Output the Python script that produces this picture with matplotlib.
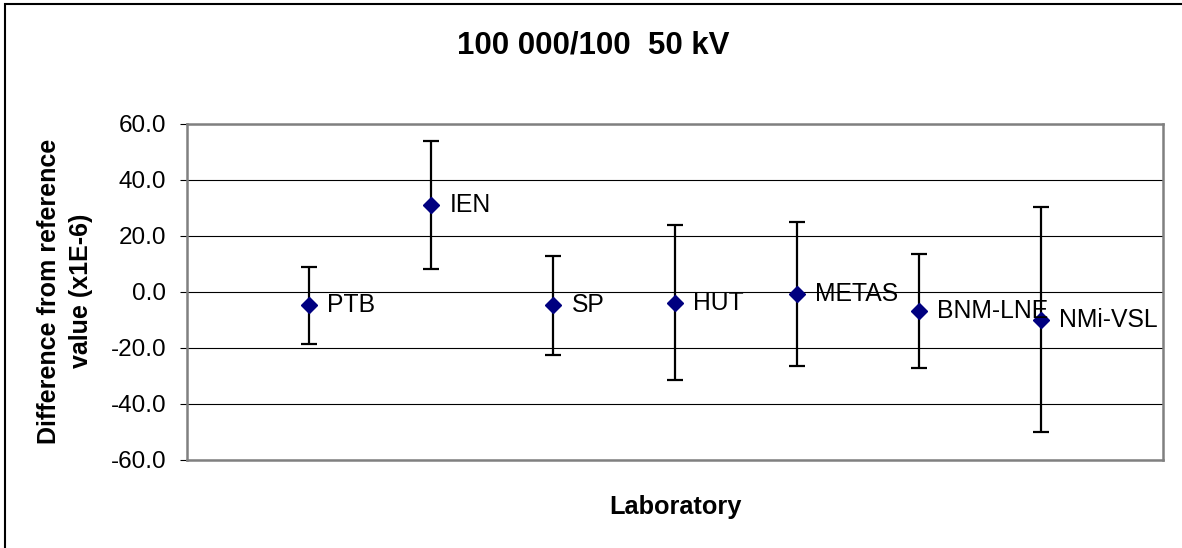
import numpy as np
import matplotlib.pyplot as plt

plt.rcParams['font.family'] = ['Liberation Sans', 'DejaVu Sans']

labs = ['PTB', 'IEN', 'SP', 'HUT', 'METAS', 'BNM-LNE', 'NMi-VSL']
diff = [-4.8, 31.1, -4.8, -3.8, -0.8, -6.8, -9.9]
unc = [13.8, 22.8, 17.8, 27.7, 25.7, 20.2, 40.2]
yt = np.arange(-60, 61, 20)

W, H = 1182, 548
fig = plt.figure(figsize=(W / 100, H / 100), dpi=100)
# plot area in pixels: left 187, right 1163, top 124, bottom 460
ax = fig.add_axes([187 / W, 1 - 460 / H, (1163 - 187) / W, (460 - 124) / H])

x = np.arange(1, len(labs) + 1)
ax.errorbar(x, diff, yerr=unc, fmt='D', color='#000080', ms=7.8,
            ecolor='black', elinewidth=1.6, capsize=5.8, capthick=1.6,
            zorder=3)
for xi, yi, s in zip(x, diff, labs):
    ax.annotate(s, (xi, yi), xytext=(13.3, 0), textcoords='offset points',
                va='center', ha='left', fontsize=17.8, zorder=4)

ax.set_xlim(0, 8)
ax.set_ylim(-60, 60)
ax.set_yticks(yt)
ax.set_yticklabels([f'{v:.1f}' for v in yt], fontsize=17.5)
ax.set_xticks([])
ax.grid(axis='y', color='black', lw=0.8)
ax.set_axisbelow(True)
for sp in ax.spines.values():
    sp.set_color('#808080')
    sp.set_linewidth(1.8)
ax.tick_params(axis='y', length=5, width=0.8, color='black', pad=10)

fig.text(65 / W, 1 - 291 / H, 'Difference from reference\nvalue (x1E-6)',
         rotation=90, ha='center', va='center', fontsize=18,
         fontweight='bold', linespacing=1.4)
fig.text(675.5 / W, 1 - 514 / H, 'Laboratory', ha='center', va='baseline',
         fontsize=18.3, fontweight='bold')
fig.text(593 / W, 1 - 53.3 / H, '100 000/100  50 kV', ha='center',
         va='baseline', fontsize=22.5, fontweight='bold')

# chart border (only top and left edges fall inside the picture)
fig.patches.append(plt.Rectangle((4.5 / W, -0.1), 1.2, 1.1 - 4.5 / H,
                                 fill=False, edgecolor='black', lw=1.5,
                                 transform=fig.transFigure))

fig.savefig('out.png', dpi=100)
